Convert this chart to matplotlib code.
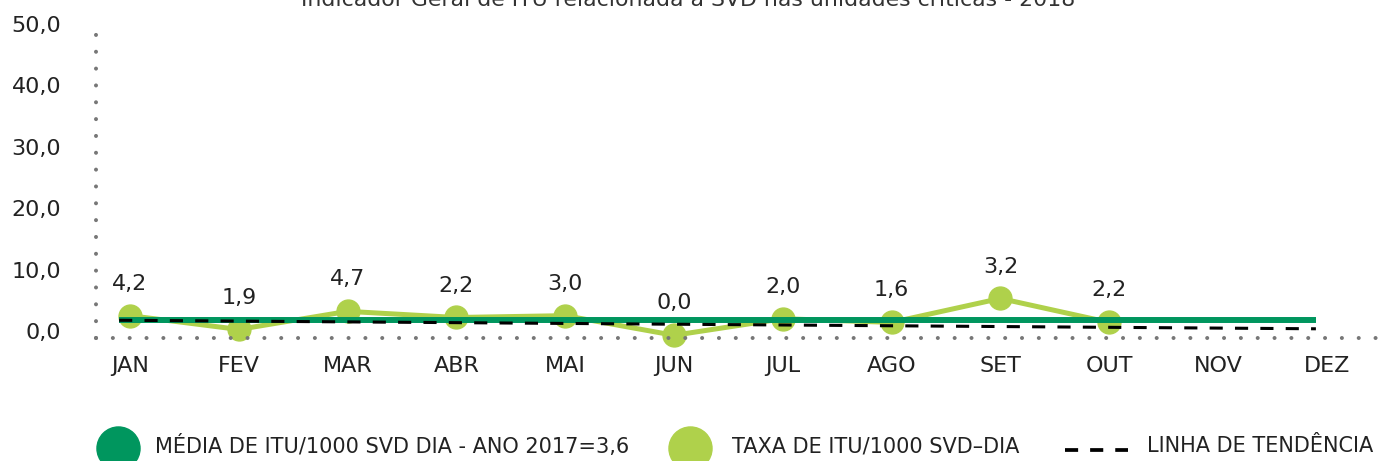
import matplotlib
matplotlib.use("Agg")
import matplotlib.pyplot as plt
from matplotlib.lines import Line2D
import numpy as np

# --- data ---
months = ["JAN", "FEV", "MAR", "ABR", "MAI", "JUN",
          "JUL", "AGO", "SET", "OUT", "NOV", "DEZ"]
taxa_plot = [2.5, 0.25, 3.2, 2.2, 2.5, -0.7, 2.0, 1.4, 5.3, 1.4]   # where the points sit
taxa_labels = ["4,2", "1,9", "4,7", "2,2", "3,0", "0,0", "2,0", "1,6", "3,2", "2,2"]
media_2017 = 1.87                      # drawn level of the average line
trend_start, trend_end = 1.75, 0.36    # dashed trend line ends
y_ticks = [0, 10, 20, 30, 40, 50]
title = "Indicador Geral de ITU relacionada à SVD nas unidades críticas - 2018"
leg_media = "MÉDIA DE ITU/1000 SVD DIA - ANO 2017=3,6"
leg_taxa = "TAXA DE ITU/1000 SVD–DIA"
leg_trend = "LINHA DE TENDÊNCIA"

DARK = "#00965E"
LIGHT = "#AFD14B"
DOTS = "#777777"
TXT = "#222222"

plt.rcParams.update({"font.family": ["DejaVu Sans"], "font.size": 16})

W, H = 1379, 461
fig = plt.figure(figsize=(W / 100, H / 100), dpi=100)
ax = fig.add_axes([96 / W, 1 - 338 / H, 1 - 96 / W, (338 - 20) / H])

x = np.arange(len(taxa_plot))
xl = np.arange(len(months)) - 0.1

ax.plot(x, taxa_plot, color=LIGHT, lw=3.6, marker="o", ms=16.5,
        mec=LIGHT, zorder=2, clip_on=False)
ax.plot(xl, [media_2017] * len(months), color=DARK, lw=4.3,
        solid_capstyle="butt", zorder=3)
ax.plot([xl[0], xl[-1]], [trend_start, trend_end], color="black", lw=2.2,
        linestyle=(0, (4.3, 4.0)), zorder=4)

for xi, yi, lab in zip(x, taxa_plot, taxa_labels):
    ax.annotate(lab, (xi, yi), xytext=(0, 23), textcoords="offset points",
                ha="center", va="center", fontsize=16, color=TXT)

ax.set_xlim(-0.3125, 11.48)
ax.set_ylim(-1.14, 50.65)
ax.set_xticks(np.arange(len(months)))
ax.set_xticklabels(months)
ax.set_yticks(y_ticks)
ax.set_yticklabels([f"{v:.1f}".replace(".", ",") for v in y_ticks])
ax.tick_params(axis="x", length=0, pad=13, colors=TXT, labelsize=16)
ax.tick_params(axis="y", length=0, pad=25, colors=TXT, labelsize=16)

for side in ["top", "right"]:
    ax.spines[side].set_visible(False)
for side in ["left", "bottom"]:
    sp = ax.spines[side]
    sp.set_color(DOTS)
    sp.set_linewidth(2.9)
    sp.set_linestyle((0, (0.01, 4.17)))
    sp.set_capstyle("round")

fig.text(688 / W, 1 - 6 / H, title, ha="center", va="baseline",
         fontsize=15.8, color="#333333")

# --- legend row at the bottom (partly cut by the figure edge) ---
leg_font = ["Liberation Sans Narrow", "DejaVu Sans"]
ly = 1 - 448 / H
fig.add_artist(Line2D([118 / W], [ly], marker="o", ms=31, color=DARK,
                      transform=fig.transFigure))
fig.add_artist(Line2D([690 / W], [ly], marker="o", ms=31, color=LIGHT,
                      transform=fig.transFigure))
fig.add_artist(Line2D([1065 / W, 1128 / W], [1 - 450 / H] * 2, color="black",
                      lw=2.7, linestyle=(0, (3.5, 3.2)),
                      transform=fig.transFigure))
ty = 1 - 446 / H
fig.text(155 / W, ty, leg_media, ha="left", va="center", fontsize=15,
         family=leg_font, color=TXT)
fig.text(732 / W, ty, leg_taxa, ha="left", va="center", fontsize=15,
         family=leg_font, color=TXT)
fig.text(1147 / W, ty, leg_trend, ha="left", va="center", fontsize=15,
         family=leg_font, color=TXT)

fig.savefig("out.png", dpi=100)
